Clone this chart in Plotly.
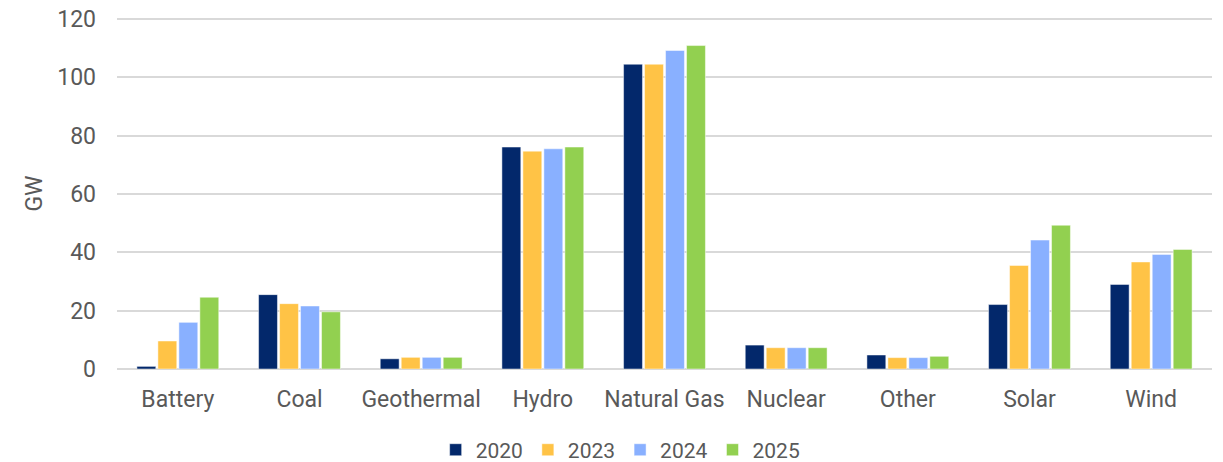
import plotly.graph_objects as go

categories = ["Battery", "Coal", "Geothermal", "Hydro", "Natural Gas", "Nuclear", "Other", "Solar", "Wind"]
years = ["2020", "2023", "2024", "2025"]
v2020 = [0.9, 25.5, 3.5, 76.1, 104.5, 8.2, 4.8, 22.1, 29.0]
v2023 = [9.6, 22.4, 4.0, 74.7, 104.5, 7.3, 3.9, 35.5, 36.7]
v2024 = [16.0, 21.6, 4.0, 75.5, 109.2, 7.3, 3.9, 44.2, 39.3]
v2025 = [24.6, 19.6, 4.0, 76.1, 110.9, 7.3, 4.35, 49.3, 41.0]
colors = ["#03286B", "#FFC346", "#89B0FF", "#92D050"]
y_ticks = [0, 20, 40, 60, 80, 100, 120]

series = [v2020, v2023, v2024, v2025]
text_color = "#595959"
font_family = "Roboto"
fs = 23

fig = go.Figure()
for name, vals, col in zip(years, series, colors):
    fig.add_trace(go.Bar(
        x=categories, y=vals, name=name,
        marker=dict(color=col, line=dict(color="rgba(255,255,255,0.6)", width=0.8)),
    ))

fig.update_layout(
    width=1223, height=462,
    margin=dict(l=117, r=11, t=18.4, b=93.3, autoexpand=False),
    paper_bgcolor="white", plot_bgcolor="white",
    barmode="group", bargap=0.31, bargroupgap=0.1,
    font=dict(family=font_family, size=fs, color=text_color),
    showlegend=True,
    legend=dict(
        orientation="h", x=0.291, xanchor="left", y=-0.231, yanchor="middle",
        font=dict(family=font_family, size=21, color=text_color),
        itemwidth=30, traceorder="normal",
        tracegroupgap=0,
    ),
    xaxis=dict(
        showgrid=False, showline=False, zeroline=False,
        ticks="", ticklabelstandoff=14,
        tickfont=dict(family=font_family, size=fs, color=text_color),
    ),
    yaxis=dict(
        range=[0, 120.35], tickvals=y_ticks, ticktext=[str(t) for t in y_ticks],
        showgrid=True, gridcolor="#D9D9D9", gridwidth=1.5,
        zeroline=True, zerolinecolor="#D9D9D9", zerolinewidth=1.5,
        showline=False, ticks="", ticklabelstandoff=20,
        ticklabeloverflow="allow",
        tickfont=dict(family=font_family, size=fs, color=text_color),
        title=dict(text="GW", font=dict(family=font_family, size=fs, color=text_color), standoff=8),
    ),
)

fig.write_html(
    "out.html",
    config={"displayModeBar": False},
    post_script="document.body.style.margin='0';",
)
